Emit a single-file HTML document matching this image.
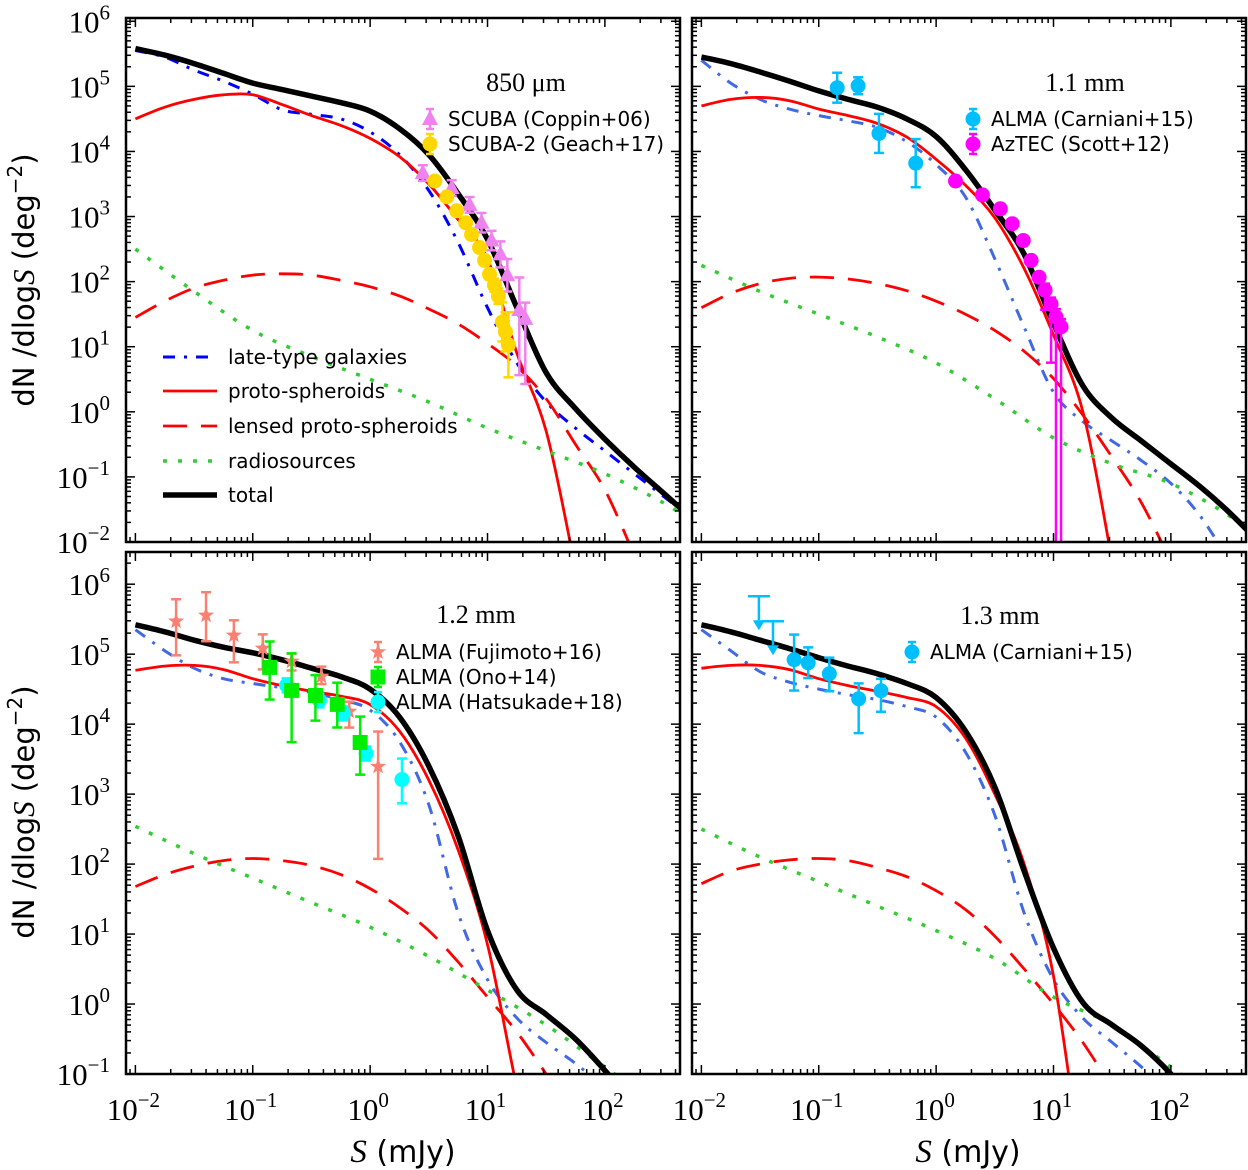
<!DOCTYPE html>
<html><head><meta charset="utf-8">
<style>
html,body{margin:0;padding:0;background:#fff;}
svg{display:block;}
.tick{font-family:"Liberation Serif",serif;font-size:31px;fill:#000;}
.leg{font-family:"DejaVu Sans","Liberation Sans",sans-serif;font-size:20px;fill:#000;}
.ttl{font-family:"Liberation Serif",serif;font-size:26px;fill:#000;}
.ax{font-family:"DejaVu Sans","Liberation Sans",sans-serif;fill:#000;}
</style></head>
<body>
<svg id="chart" width="1248" height="1170" viewBox="0 0 1248 1170" xmlns="http://www.w3.org/2000/svg">
<defs>
<clipPath id="c0"><rect x="126" y="18" width="554" height="524"/></clipPath>
<clipPath id="c1"><rect x="692" y="18" width="554" height="524"/></clipPath>
<clipPath id="c2"><rect x="126" y="552" width="554" height="522"/></clipPath>
<clipPath id="c3"><rect x="692" y="552" width="554" height="522"/></clipPath>
</defs>
<text class="ax" transform="translate(34,280) rotate(-90)" text-anchor="middle" font-size="29">dN /dlog<tspan font-family="Liberation Serif" font-style="italic" font-size="31">S</tspan> (deg<tspan dy="-12" font-size="20">−2</tspan><tspan dy="12">)</tspan></text>
<text class="ax" transform="translate(34,812) rotate(-90)" text-anchor="middle" font-size="29">dN /dlog<tspan font-family="Liberation Serif" font-style="italic" font-size="31">S</tspan> (deg<tspan dy="-12" font-size="20">−2</tspan><tspan dy="12">)</tspan></text>
<text class="ax" x="403" y="1162" text-anchor="middle" font-size="30"><tspan font-family="Liberation Serif" font-style="italic" font-size="33">S</tspan> (mJy)</text>
<text class="ax" x="968" y="1162" text-anchor="middle" font-size="30"><tspan font-family="Liberation Serif" font-style="italic" font-size="33">S</tspan> (mJy)</text>
</svg>
<script>
// ---------- data ----------
const grid = [-2,-1.75,-1.5,-1.25,-1,-0.75,-0.5,-0.25,0,0.25,0.5,0.75,1,1.25,1.5,1.75,2,2.25,2.5,2.75];
const radioGrid = [-2,-1.5,-1,-0.5,0,0.5,1,1.5,2,2.5,2.75];
// panel 850um
const late850 = [5.55,5.45,5.25,5.08,4.88,4.64,4.57,4.5,4.3,3.95,3.4,2.6,1.6,0.75,0.15,-0.25,-0.6,-0.95,-1.3,-1.65];
const proto850 = [4.5,4.68,4.8,4.87,4.87,4.72,4.55,4.4,4.2,3.92,3.5,2.95,2.35,0.9,-0.3,-2.4,-4.5];
const lensed850 = [1.45,1.7,1.9,2.02,2.1,2.12,2.1,2.02,1.92,1.78,1.58,1.35,1.05,0.7,0.2,-0.5,-1.2,-2.2];
const radio850 = [2.5,1.85,1.25,0.85,0.5,0.15,-0.25,-0.6,-0.95,-1.4,-1.7];
const total850 = [5.58,5.48,5.35,5.2,5.05,4.95,4.85,4.75,4.62,4.35,3.95,3.35,2.65,1.6,0.6,0.05,-0.42,-0.85,-1.25,-1.65];
// panel 1.1mm
const late11 = [5.4,5.05,4.8,4.65,4.55,4.47,4.37,4.15,3.8,3.3,2.35,1.3,0.3,-0.15,-0.45,-0.75,-1.1,-1.6,-2.3];
const proto11 = [4.7,4.8,4.83,4.78,4.65,4.55,4.43,4.22,3.88,3.48,2.98,2.2,1.18,0.0,-2.3,-5];
const lensed11 = [1.6,1.82,1.97,2.05,2.07,2.04,1.97,1.86,1.7,1.5,1.25,0.93,0.51,-0.05,-0.7,-1.4,-2.3];
const radio11 = [2.25,1.85,1.5,1.15,0.75,0.2,-0.4,-0.8,-1.1,-1.6,-2.0];
const total11 = [5.45,5.35,5.22,5.08,4.93,4.8,4.68,4.5,4.23,3.72,3.1,2.42,1.36,0.4,-0.1,-0.45,-0.8,-1.15,-1.55,-2.0];
// panel 1.2mm
const late12 = [5.35,5.05,4.8,4.65,4.58,4.52,4.45,4.35,4.2,3.75,2.85,1.3,0.35,-0.2,-0.55,-0.85,-1.2];
const proto12 = [4.77,4.83,4.84,4.78,4.65,4.55,4.47,4.4,4.28,3.9,3.2,2.2,0.85,-1.2,-3];
const lensed12 = [1.68,1.85,1.97,2.05,2.08,2.05,1.98,1.85,1.65,1.38,1.05,0.6,0.1,-0.4,-1.0];
const radio12 = [2.54,2.15,1.8,1.45,1.1,0.68,0.2,-0.3,-0.9,-1.5,-1.8];
const total12 = [5.42,5.32,5.2,5.1,5.02,4.92,4.8,4.68,4.5,4.1,3.4,2.4,1.05,0.2,-0.15,-0.5,-0.95,-1.45];
// panel 1.3mm
const late13 = [5.35,5.05,4.75,4.6,4.5,4.42,4.35,4.25,4.1,3.6,2.7,1.3,0.35,-0.2,-0.55,-0.9,-1.3];
const proto13 = [4.8,4.84,4.84,4.78,4.65,4.55,4.47,4.38,4.25,3.8,3.0,2.0,0.4,-2.5];
const lensed13 = [1.72,1.9,2.0,2.06,2.08,2.05,1.95,1.82,1.62,1.35,0.97,0.5,0.0,-0.55,-1.2];
const radio13 = [2.5,2.1,1.75,1.4,1.05,0.65,0.1,-0.3,-0.9,-1.5,-1.8];
const total13 = [5.42,5.32,5.2,5.08,4.95,4.83,4.72,4.58,4.38,3.9,3.1,1.9,0.8,0.02,-0.3,-0.6,-1.0,-1.5];
// observations (log10 S [mJy], log10 N, error up, error down)
const scubaLogS = [0.449,0.695,0.847,0.949,1.034,1.110,1.169,1.271,1.322];
const scubaLogN = [3.668,3.439,3.180,2.905,2.631,2.418,2.098,1.564,1.427];
const scubaErrUp = [0.12,0.12,0.12,0.15,0.15,0.2,0.25,0.5,0.25];
const scubaErrDn = [0.12,0.12,0.12,0.15,0.15,0.2,0.25,1.0,1.0];
const scuba2LogS = [0.551,0.653,0.737,0.814,0.864,0.932,0.975,1.017,1.059,1.093,1.127,1.153,1.178];
const scuba2LogN = [3.546,3.302,3.088,2.905,2.723,2.524,2.326,2.113,1.945,1.777,1.381,1.229,1.030];
const scuba2Err = [0.05,0.05,0.05,0.05,0.05,0.06,0.07,0.08,0.1,0.12,0.3,0.3,0.5];
const almaC11LogS = [-0.843,-0.665,-0.487,-0.174];
const almaC11LogN = [4.979,5.009,4.277,3.82];
const almaC11Err = [0.23,0.13,0.3,0.37];
const aztecLogS = [0.165,0.394,0.547,0.648,0.742,0.809,0.877,0.928,0.979,1.021,1.064];
const aztecLogN = [3.546,3.332,3.119,2.89,2.631,2.326,2.067,1.869,1.655,1.457,1.305];
const aztecErrUp = [0.05,0.05,0.05,0.05,0.05,0.06,0.07,0.1,0.1,0.12,0.12];
const aztecErrDn = [0.05,0.05,0.05,0.05,0.05,0.06,0.07,0.3,0.9,4,4];
const fujiLogS = [-1.653,-1.398,-1.161,-0.915,-0.669,-0.415,-0.178,0.068];
const fujiLogN = [5.47,5.555,5.269,5.083,4.897,4.682,4.181,3.394];
const fujiErrUp = [0.315,0.33,0.215,0.2,0.11,0.14,0.14,0.5];
const fujiErrDn = [0.487,0.37,0.386,0.3,0.13,0.11,0.23,1.32];
const onoLogS = [-0.856,-0.669,-0.466,-0.28,-0.085];
const onoLogN = [4.811,4.482,4.41,4.282,3.738];
const onoErrUp = [0.37,0.53,0.29,0.31,0.37];
const onoErrDn = [0.46,0.74,0.36,0.33,0.46];
const hatsLogS = [-0.712,-0.432,-0.229,-0.034,0.271];
const hatsLogN = [4.554,4.339,4.153,3.58,3.208];
const hatsErrUp = [0.1,0.1,0.1,0.1,0.3];
const hatsErrDn = [0.1,0.1,0.1,0.1,0.34];
const almaC13LogS = [-1.21,-1.09,-0.91,-0.66,-0.47];
const almaC13LogN = [4.92,4.877,4.72,4.362,4.477];
const almaC13ErrUp = [0.36,0.22,0.23,0.22,0.17];
const almaC13ErrDn = [0.44,0.22,0.25,0.49,0.3];
const limLogS = [-1.51,-1.39];
const limLogN = [5.827,5.47];
const tickExps = [-2,-1,0,1,2];

// ---------- rendering ----------
const NS = 'http://www.w3.org/2000/svg';
const svg = document.getElementById('chart');
const XMIN = -2.08, XMAX = 2.64;
const panels = [
 {x0:126,x1:680,y0:18,y1:542,ymin:-2,ymax:6.05,clip:'c0',bottom:false,left:true},
 {x0:692,x1:1246,y0:18,y1:542,ymin:-2,ymax:6.05,clip:'c1',bottom:false,left:false},
 {x0:126,x1:680,y0:552,y1:1074,ymin:-1,ymax:6.46,clip:'c2',bottom:true,left:true},
 {x0:692,x1:1246,y0:552,y1:1074,ymin:-1,ymax:6.46,clip:'c3',bottom:true,left:false}
];
function sx(p,v){return p.x0+(v-XMIN)/(XMAX-XMIN)*(p.x1-p.x0);}
function sy(p,v){return p.y1-(v-p.ymin)/(p.ymax-p.ymin)*(p.y1-p.y0);}
function mk(tag,attrs,parent){const e=document.createElementNS(NS,tag);for(const k in attrs)e.setAttribute(k,attrs[k]);(parent||svg).appendChild(e);return e;}
function smoothPath(pts){
  let d='M'+pts[0][0].toFixed(1)+','+pts[0][1].toFixed(1);
  for(let i=0;i<pts.length-1;i++){
    const p0=pts[Math.max(i-1,0)],p1=pts[i],p2=pts[i+1],p3=pts[Math.min(i+2,pts.length-1)];
    const c1=[p1[0]+(p2[0]-p0[0])/6,p1[1]+(p2[1]-p0[1])/6];
    const c2=[p2[0]-(p3[0]-p1[0])/6,p2[1]-(p3[1]-p1[1])/6];
    d+='C'+c1[0].toFixed(1)+','+c1[1].toFixed(1)+' '+c2[0].toFixed(1)+','+c2[1].toFixed(1)+' '+p2[0].toFixed(1)+','+p2[1].toFixed(1);
  }
  return d;
}
function curve(p,xs,ys,style,name){
  const pts=ys.map((v,i)=>[sx(p,xs[i]),sy(p,v)]);
  const e=mk('path',Object.assign({d:smoothPath(pts),fill:'none','clip-path':'url(#'+p.clip+')'},style));
  
  
}
const sBlue={stroke:'#0000ff','stroke-width':3,'stroke-dasharray':'12,9,3,9'};
const sBlue2={stroke:'#4169e1','stroke-width':3,'stroke-dasharray':'12,9,3,9'};
const sRed={stroke:'#ff0000','stroke-width':2.8};
const sDash={stroke:'#ff0000','stroke-width':2.8,'stroke-dasharray':'24,14'};
const sGreen={stroke:'#33cc33','stroke-width':3.5,'stroke-dasharray':'4,11'};
const sBlack={stroke:'#000','stroke-width':5.5};
const sets=[[late850,proto850,lensed850,radio850,total850,sBlue],[late11,proto11,lensed11,radio11,total11,sBlue2],[late12,proto12,lensed12,radio12,total12,sBlue2],[late13,proto13,lensed13,radio13,total13,sBlue2]];

function marker(shape,x,y,color,name){
  let e;
  if(shape==='tri') e=mk('polygon',{points:`${x},${y-9} ${x-8},${y+6} ${x+8},${y+6}`,fill:color});
  else if(shape==='circ') e=mk('circle',{cx:x,cy:y,r:7.5,fill:color});
  else if(shape==='sq') e=mk('rect',{x:x-7.5,y:y-7.5,width:15,height:15,fill:color});
  else if(shape==='star'){let s='';for(let k=0;k<10;k++){const r=k%2?3.5:8.5,a=-Math.PI/2+k*Math.PI/5;s+=(x+r*Math.cos(a)).toFixed(1)+','+(y+r*Math.sin(a)).toFixed(1)+' ';}e=mk('polygon',{points:s,fill:color});}
  
  
}
function errbar(p,x,yt,yb,color){
  const g=mk('g',{stroke:color,'stroke-width':2.5,'clip-path':'url(#'+p.clip+')'});
  
  
  mk('line',{x1:x,y1:yt,x2:x,y2:yb},g);
  mk('line',{x1:x-5,y1:yt,x2:x+5,y2:yt},g);
  mk('line',{x1:x-5,y1:yb,x2:x+5,y2:yb},g);
}
function series(p,lx,ly,eu,ed,shape,color,name){
  lx.forEach((v,i)=>{
    const x=sx(p,v),y=sy(p,ly[i]);
    errbar(p,x,sy(p,ly[i]+eu[i]),sy(p,ly[i]-ed[i]),color);
    marker(shape,x,y,color,name+'-point');
  });
}

panels.forEach((p,pi)=>{
  const s=sets[pi];
  curve(p,grid,s[0],s[5],'late-type-curve');
  curve(p,grid,s[1],sRed,'proto-spheroids-curve');
  curve(p,grid,s[2],sDash,'lensed-proto-spheroids-curve');
  curve(p,radioGrid,s[3],sGreen,'radiosources-curve');
  curve(p,grid,s[4],sBlack,'total-curve');
});

// observations
series(panels[0],scubaLogS,scubaLogN,scubaErrUp,scubaErrDn,'tri','#ee82ee','scuba');
series(panels[0],scuba2LogS,scuba2LogN,scuba2Err,scuba2Err,'circ','#ffd700','scuba2');
series(panels[1],almaC11LogS,almaC11LogN,almaC11Err,almaC11Err,'circ','#00bfff','alma-carniani');
series(panels[1],aztecLogS,aztecLogN,aztecErrUp,aztecErrDn,'circ','#ff00ff','aztec');
series(panels[2],fujiLogS,fujiLogN,fujiErrUp,fujiErrDn,'star','#fa8072','alma-fujimoto');
series(panels[2],hatsLogS,hatsLogN,hatsErrUp,hatsErrDn,'circ','#00ffff','alma-hatsukade');
series(panels[2],onoLogS,onoLogN,onoErrUp,onoErrDn,'sq','#00ee00','alma-ono');
series(panels[3],almaC13LogS,almaC13LogN,almaC13ErrUp,almaC13ErrDn,'circ','#00bfff','alma-carniani-13');
limLogS.forEach((v,i)=>{
  const p=panels[3],x=sx(p,v),y=sy(p,limLogN[i]),yb=y+24;
  const g=mk('g',{stroke:'#00bfff','stroke-width':2.5,fill:'#00bfff'});
  
  
  mk('line',{x1:x-11,y1:y,x2:x+11,y2:y},g);
  mk('line',{x1:x,y1:y,x2:x,y2:yb},g);
  mk('polygon',{points:`${x-6},${yb} ${x+6},${yb} ${x},${yb+10}`,stroke:'none'},g);
});

// frames & ticks
panels.forEach((p,pi)=>{
  const g=mk('g',{stroke:'#000','stroke-width':1.5});
  
  
  for(let e=-3;e<=3;e++){for(let m=1;m<10;m++){
    const v=e+Math.log10(m); if(v<XMIN||v>XMAX) continue;
    const x=sx(p,v),L=m===1?9:5;
    mk('line',{x1:x,y1:p.y1,x2:x,y2:p.y1-L},g);mk('line',{x1:x,y1:p.y0,x2:x,y2:p.y0+L},g);
  }}
  for(let e=-3;e<=7;e++){for(let m=1;m<10;m++){
    const v=e+Math.log10(m); if(v<p.ymin-1e-6||v>p.ymax) continue;
    const y=sy(p,v),L=m===1?9:5;
    mk('line',{x1:p.x0,y1:y,x2:p.x0+L,y2:y},g);mk('line',{x1:p.x1,y1:y,x2:p.x1-L,y2:y},g);
  }}
  const fr=mk('rect',{x:p.x0,y:p.y0,width:p.x1-p.x0,height:p.y1-p.y0,fill:'none',stroke:'#000','stroke-width':2.5});
  
  
  if(p.left){
    for(let e=Math.ceil(p.ymin);e<=Math.floor(p.ymax);e++){
      const t=mk('text',{class:'tick',x:p.x0-16,y:sy(p,e)+11,'text-anchor':'end'});
      t.innerHTML='10<tspan dy="-13" font-size="21">'+(e<0?'−'+(-e):e)+'</tspan>';
      
      
    }
  }
  if(p.bottom){
    tickExps.forEach(e=>{
      const t=mk('text',{class:'tick',x:sx(p,e)-2,y:p.y1+46,'text-anchor':'middle'});
      t.innerHTML='10<tspan dy="-13" font-size="21">'+(e<0?'−'+(-e):e)+'</tspan>';
      
      
    });
  }
});

// titles & legends
function txt(x,y,str,cls,name,anchor){const t=mk('text',{x:x,y:y,class:cls,'text-anchor':anchor||'start'});t.textContent=str;return t;}
txt(526,91,'850 μm','ttl','panel-title-850um','middle');
txt(1085,91,'1.1 mm','ttl','panel-title-1-1mm','middle');
txt(476,623,'1.2 mm','ttl','panel-title-1-2mm','middle');
txt(1000,624,'1.3 mm','ttl','panel-title-1-3mm','middle');
const dataLeg=[
 [430,119,'tri','#ee82ee','SCUBA (Coppin+06)'],[430,144,'circ','#ffd700','SCUBA-2 (Geach+17)'],
 [973,119,'circ','#00bfff','ALMA (Carniani+15)'],[973,144,'circ','#ff00ff','AzTEC (Scott+12)'],
 [378,652,'star','#fa8072','ALMA (Fujimoto+16)'],[378,677,'sq','#00ee00','ALMA (Ono+14)'],[378,702,'circ','#00ffff','ALMA (Hatsukade+18)'],
 [912,652,'circ','#00bfff','ALMA (Carniani+15)']];
dataLeg.forEach(l=>{
  const g=mk('g',{stroke:l[3],'stroke-width':2.5});
  
  
  mk('line',{x1:l[0],y1:l[1]-10,x2:l[0],y2:l[1]+10},g);
  mk('line',{x1:l[0]-4,y1:l[1]-10,x2:l[0]+4,y2:l[1]-10},g);
  mk('line',{x1:l[0]-4,y1:l[1]+10,x2:l[0]+4,y2:l[1]+10},g);
  marker(l[2],l[0],l[1],l[3],'legend-marker');
  txt(l[0]+18,l[1]+7,l[4],'leg','legend-entry');
});
const modelLeg=[[sBlue,'late-type galaxies',357],[sRed,'proto-spheroids',391],[sDash,'lensed proto-spheroids',426],[sGreen,'radiosources',461],[sBlack,'total',495]];
modelLeg.forEach(l=>{
  const e=mk('line',Object.assign({x1:163,y1:l[2],x2:217,y2:l[2]},l[0]));
  
  
  txt(228,l[2]+7,l[1],'leg','legend-entry');
});
</script>
</body></html>
